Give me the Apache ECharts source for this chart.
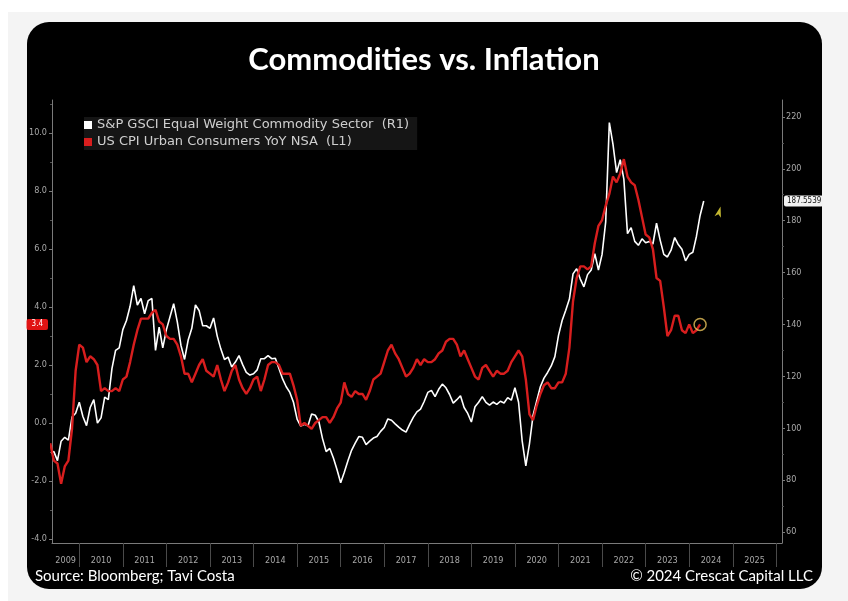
<!DOCTYPE html>
<html>
<head>
<meta charset="utf-8">
<script src="https://cdn.jsdelivr.net/npm/echarts@6/dist/echarts.min.js"></script>
<style>
  html, body { margin: 0; padding: 0; background: #fff; }
  #backdrop { position: absolute; left: 8px; top: 12px; width: 840px; height: 589px; background: #f4f4f4; }
  #panel { position: absolute; left: 27px; top: 22px; width: 795px; height: 567px; background: #000; border-radius: 22px; }
  #chart { position: absolute; left: 0; top: 0; width: 848px; height: 601px; }
</style>
</head>
<body>
<div id="backdrop"></div>
<div id="panel"></div>
<div id="chart"></div>
<script>
// monthly series, first value = April 2009, plotted at month end
const firstMonth = { year: 2009, month: 4 };

// US CPI Urban Consumers YoY NSA (%), Apr 2009 .. Mar 2024
const cpiYoY = [
  -0.7, -1.3, -1.4, -2.1, -1.5, -1.3, -0.2, 1.8, 2.7,
  2.6, 2.1, 2.3, 2.2, 2.0, 1.1, 1.2, 1.1, 1.1, 1.2, 1.1, 1.5,
  1.6, 2.1, 2.7, 3.2, 3.6, 3.6, 3.6, 3.8, 3.9, 3.5, 3.4, 3.0,
  2.9, 2.9, 2.7, 2.3, 1.7, 1.7, 1.4, 1.7, 2.0, 2.2, 1.8, 1.7,
  1.6, 2.0, 1.5, 1.1, 1.4, 1.8, 2.0, 1.5, 1.2, 1.0, 1.2, 1.5,
  1.6, 1.1, 1.5, 2.0, 2.1, 2.1, 2.0, 1.7, 1.7, 1.7, 1.3, 0.8,
  -0.1, 0.0, -0.1, -0.2, 0.0, 0.1, 0.2, 0.2, 0.0, 0.2, 0.5, 0.7,
  1.4, 1.0, 0.9, 1.1, 1.0, 1.0, 0.8, 1.1, 1.5, 1.6, 1.7, 2.1,
  2.5, 2.7, 2.4, 2.2, 1.9, 1.6, 1.7, 1.9, 2.2, 2.0, 2.2, 2.1,
  2.1, 2.2, 2.4, 2.5, 2.8, 2.9, 2.9, 2.7, 2.3, 2.5, 2.2, 1.9,
  1.6, 1.5, 1.9, 2.0, 1.8, 1.6, 1.8, 1.7, 1.7, 1.8, 2.1, 2.3,
  2.5, 2.3, 1.5, 0.3, 0.1, 0.6, 1.0, 1.3, 1.4, 1.2, 1.2, 1.4,
  1.4, 1.7, 2.6, 4.2, 5.0, 5.4, 5.4, 5.3, 5.4, 6.2, 6.8, 7.0,
  7.5, 7.9, 8.5, 8.3, 8.6, 9.1, 8.5, 8.3, 8.2, 7.7, 7.1, 6.5,
  6.4, 6.0, 5.0, 4.9, 4.0, 3.0, 3.2, 3.7, 3.7, 3.2, 3.1, 3.4,
  3.1, 3.2, 3.4
];

// S&P GSCI Equal Weight Commodity Sector, Apr 2009 .. Apr 2024
const gsciEqualWeight = [
  90.3, 91, 87.5, 95, 96.5, 95.4, 104.3, 105.8, 110,
  104.5, 101, 108, 111, 102, 104, 112, 111, 123, 130, 131, 138,
  141.5, 147, 155, 147.5, 150, 144.1, 149.2, 150, 130, 139, 131, 138,
  143, 148, 141, 132, 126.5, 134, 138.5, 147.5, 145.4, 139.5, 139.5, 138.5,
  142.5, 135.5, 130.5, 126.5, 127.4, 123.6, 125.5, 128, 124.5, 121.5, 120.5, 121,
  122.5, 126.8, 126.8, 128, 126.8, 127, 123, 119, 116, 113.8, 110, 103.5,
  100.8, 101.5, 101, 105.5, 105, 102.5, 96, 91, 92.2, 88.5, 84, 79,
  83, 87.5, 91.5, 94.3, 96.8, 96.5, 93.7, 95, 96.2, 96.8, 98.8, 100.3,
  103.6, 103.1, 101.7, 100.4, 99.3, 98.5, 101.5, 104.2, 106.3, 107.4, 110.3, 113.8,
  114.6, 112.2, 115, 117, 115.6, 113, 109.7, 111, 112.5, 108, 105.7, 102.4,
  108.3, 110, 112.2, 110, 108.9, 110.1, 109.2, 110.4, 109.7, 111.8, 110.8, 115.6,
  110, 95, 85.5, 94, 105, 110.5, 116, 119.3, 121.5, 124, 127.6, 135.8,
  141.5, 145.5, 149.8, 159.5, 161.5, 157.5, 154.5, 159.2, 161, 167.3, 161, 167,
  179.5, 217.8, 209.5, 198.5, 203.5, 196, 175, 177.3, 172, 170.5, 173, 171.5,
  172, 171, 179, 172.5, 167, 166, 168.6, 173.5, 170.8, 169, 164.5, 167,
  167.8, 174, 182, 187.5539
];

const yearTicks = [2010, 2011, 2012, 2013, 2014, 2015, 2016, 2017, 2018, 2019, 2020, 2021, 2022, 2023, 2024, 2025, 2026];
const yearLabels = [2009, 2010, 2011, 2012, 2013, 2014, 2015, 2016, 2017, 2018, 2019, 2020, 2021, 2022, 2023, 2024, 2025];
const leftTicks = [-4, -2, 0, 2, 4, 6, 8, 10];
const leftMinorTicks = [-3, -1, 1, 3, 5, 7, 9, 11];
const rightTicks = [60, 80, 100, 120, 140, 160, 180, 200, 220];
const rightMinorTicks = [70, 90, 110, 130, 150, 170, 190, 210];

// axis extents
const xMin = 2009.374, xMax = 2026.13;
const leftMin = -4.14, leftMax = 11.14;
const rightMin = 55.77, rightMax = 226.5;

// annotation arrow near the commodity line end
const arrowMark = [2024.72, 185.5];

const monthEnd = i => firstMonth.year + (firstMonth.month + i) / 12;
const cpiData = cpiYoY.map((v, i) => [monthEnd(i), v]);
const gsciData = gsciEqualWeight.map((v, i) => [monthEnd(i), v]);
const lastCpi = cpiData[cpiData.length - 1];
const lastGsci = gsciData[gsciData.length - 1];

// year label sits in the middle of its visible span
const yearLabelPos = yearLabels.map(y => (Math.max(y, xMin) + Math.min(y + 1, xMax)) / 2);

const labelFont = "'Liberation Sans Narrow', 'DejaVu Sans Condensed', 'Liberation Sans', sans-serif";
const axisGrey = '#7a7a7a';
const labelGrey = '#a8a8a8';
const redLine = '#d81e1e';

const chart = echarts.init(document.getElementById('chart'));

chart.setOption({
  backgroundColor: 'transparent',
  animation: false,
  title: {
    text: 'Commodities vs. Inflation',
    left: 'center',
    top: 39,
    textStyle: { color: '#fff', fontSize: 31, fontWeight: 'bold', fontFamily: 'Lato' }
  },
  legend: {
    orient: 'vertical',
    left: 84,
    top: 117,
    icon: 'rect',
    itemWidth: 8,
    itemHeight: 8,
    itemGap: 3,
    padding: [1, 8, 1, 0],
    backgroundColor: '#151515',
    textStyle: { color: '#cfcfcf', fontSize: 13, fontFamily: 'DejaVu Sans', lineHeight: 14 },
    data: ['S&P GSCI Equal Weight Commodity Sector  (R1)', 'US CPI Urban Consumers YoY NSA  (L1)']
  },
  grid: { left: 52, right: 66, top: 100, bottom: 58 },
  xAxis: [
    {
      // axis line and year dividers
      type: 'value',
      min: xMin,
      max: xMax,
      splitLine: { show: false },
      axisLine: { show: true, onZero: false, lineStyle: { color: axisGrey } },
      axisTick: { show: true, customValues: yearTicks, length: 24, lineStyle: { color: '#4a4a4a' } },
      axisLabel: { show: false }
    },
    {
      // year labels
      type: 'value',
      position: 'bottom',
      min: xMin,
      max: xMax,
      splitLine: { show: false },
      axisLine: { show: false, onZero: false },
      axisTick: { show: false },
      axisLabel: {
        customValues: yearLabelPos,
        showMinLabel: true,
        showMaxLabel: true,
        hideOverlap: false,
        formatter: v => String(Math.floor(v)),
        color: labelGrey, fontSize: 9, fontFamily: labelFont, margin: 13
      }
    }
  ],
  yAxis: [
    {
      type: 'value', position: 'left', min: leftMin, max: leftMax,
      splitLine: { show: false },
      axisLine: { show: true, lineStyle: { color: axisGrey } },
      axisTick: { show: true, customValues: leftTicks, length: 3, lineStyle: { color: axisGrey } },
      axisLabel: { customValues: leftTicks, formatter: v => v.toFixed(1), color: labelGrey, fontSize: 9, fontFamily: labelFont, margin: 5 }
    },
    {
      type: 'value', position: 'right', min: rightMin, max: rightMax,
      splitLine: { show: false },
      axisLine: { show: true, lineStyle: { color: axisGrey } },
      axisTick: { show: true, customValues: rightTicks, length: 3, lineStyle: { color: axisGrey } },
      axisLabel: { customValues: rightTicks, color: labelGrey, fontSize: 9, fontFamily: labelFont, margin: 4 }
    },
    {
      // left minor ticks + last value tag
      type: 'value', position: 'left', min: leftMin, max: leftMax,
      splitLine: { show: false },
      axisLine: { show: false },
      axisTick: { show: true, customValues: leftMinorTicks, length: 2, lineStyle: { color: '#555' } },
      axisLabel: {
        customValues: [lastCpi[1]],
        formatter: v => v.toFixed(1),
        color: '#fff', fontSize: 8, fontFamily: labelFont, margin: 4,
        backgroundColor: '#e01414', padding: [2, 5, 1, 5], borderRadius: 2
      }
    },
    {
      // right minor ticks + last value tag
      type: 'value', position: 'right', min: rightMin, max: rightMax,
      splitLine: { show: false },
      axisLine: { show: false },
      axisTick: { show: true, customValues: rightMinorTicks, length: 2, lineStyle: { color: '#555' } },
      axisLabel: {
        customValues: [lastGsci[1]],
        formatter: v => String(v),
        color: '#111', fontSize: 8, fontFamily: labelFont, margin: 2,
        backgroundColor: '#f2f2f2', padding: [2, 2, 1, 3], borderRadius: 2
      }
    }
  ],
  series: [
    {
      name: 'S&P GSCI Equal Weight Commodity Sector  (R1)',
      type: 'line',
      yAxisIndex: 1,
      data: gsciData,
      showSymbol: false,
      itemStyle: { color: '#ffffff' },
      lineStyle: { color: '#ffffff', width: 1.6 },
      z: 2
    },
    {
      name: 'US CPI Urban Consumers YoY NSA  (L1)',
      type: 'line',
      yAxisIndex: 0,
      data: cpiData,
      showSymbol: false,
      itemStyle: { color: redLine },
      lineStyle: { color: redLine, width: 2.4 },
      z: 3
    },
    {
      type: 'scatter',
      yAxisIndex: 0,
      data: [lastCpi],
      symbol: 'circle',
      symbolSize: 12,
      itemStyle: { color: 'rgba(0,0,0,0)', borderColor: '#e8c25a', borderWidth: 1.5 },
      z: 4
    },
    {
      type: 'scatter',
      yAxisIndex: 1,
      data: [arrowMark],
      symbol: 'arrow',
      symbolSize: [5, 11],
      symbolRotate: -15,
      itemStyle: { color: '#f2e43c' },
      z: 4
    }
  ],
  graphic: [
    {
      type: 'text', left: 35, top: 569,
      style: { text: 'Source: Bloomberg; Tavi Costa', fill: '#fff', fontSize: 15, fontFamily: 'Lato' }
    },
    {
      type: 'text', right: 35, top: 569,
      style: { text: '\u00A9 2024 Crescat Capital LLC', fill: '#fff', fontSize: 15, fontFamily: 'Lato' }
    }
  ]
});
</script>
</body>
</html>
